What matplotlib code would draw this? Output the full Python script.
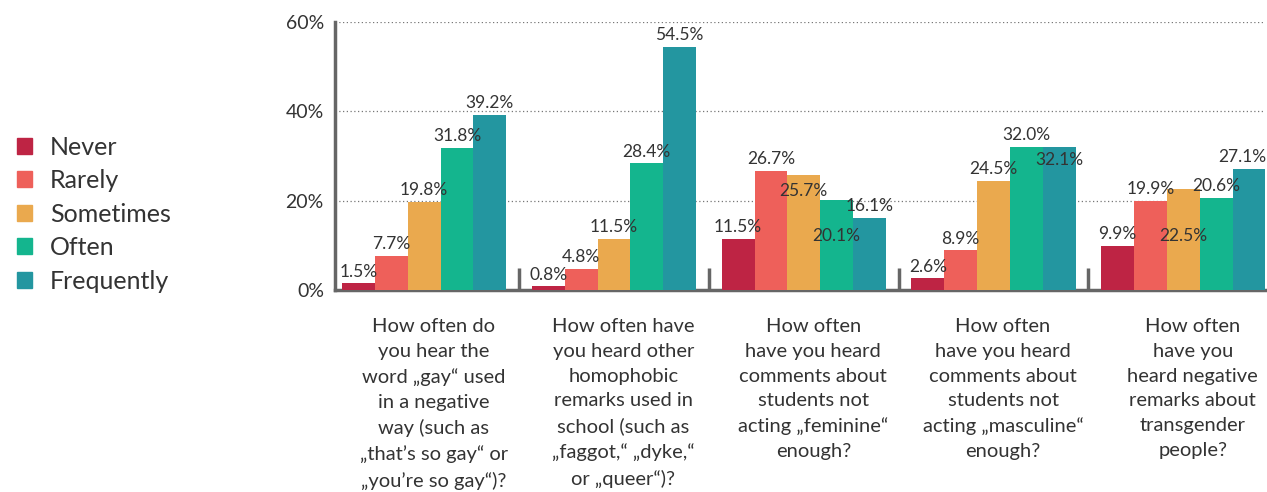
import numpy as np
import matplotlib.pyplot as plt
from matplotlib.patches import Patch

plt.rcParams['font.family'] = ['Lato', 'DejaVu Sans']

questions = [
    "How often do\nyou hear the\nword \u201egay\u201c used\nin a negative\nway (such as\n\u201ethat\u2019s so gay\u201c or\n\u201eyou\u2019re so gay\u201c)?",
    "How often have\nyou heard other\nhomophobic\nremarks used in\nschool (such as\n\u201efaggot,\u201c \u201edyke,\u201c\nor \u201equeer\u201c)?",
    "How often\nhave you heard\ncomments about\nstudents not\nacting \u201efeminine\u201c\nenough?",
    "How often\nhave you heard\ncomments about\nstudents not\nacting \u201emasculine\u201c\nenough?",
    "How often\nhave you\nheard negative\nremarks about\ntransgender\npeople?",
]
answers = ['Never', 'Rarely', 'Sometimes', 'Often', 'Frequently']
never = [1.5, 0.8, 11.5, 2.6, 9.9]
rarely = [7.7, 4.8, 26.7, 8.9, 19.9]
sometimes = [19.8, 11.5, 25.7, 24.5, 22.5]
often = [31.8, 28.4, 20.1, 32.0, 20.6]
frequently = [39.2, 54.5, 16.1, 32.1, 27.1]
series = [never, rarely, sometimes, often, frequently]
colors = ['#BE2444', '#EE605A', '#EAA94E', '#14B58E', '#2396A0']

# labels that sit inside the bar in the original (answer index, question index) -> label centre
inside = {(2, 2): 22.2, (3, 2): 12.1, (4, 3): 29.1, (2, 4): 12.1}

txt = '#333333'
grey = '#666666'

fig = plt.figure(figsize=(12.67, 4.92), dpi=100)
ax = fig.add_axes([0.2644, 0.4106, 0.734, 0.5447])

x = np.arange(len(questions))
w = 0.173
for k, vals in enumerate(series):
    pos = x + (k - 2) * w
    ax.bar(pos, vals, width=w, color=colors[k], zorder=3)
    for i, v in enumerate(vals):
        yc = inside.get((k, i), v + 2.6)
        xc = pos[i] - 0.035 if (k, i) == (4, 4) else pos[i]  # keep last label inside the figure
        ax.text(xc, yc, f'{v:.1f}%', ha='center', va='center',
                fontsize=12.5, color=txt, zorder=4)

# short separators between groups
for s in x[:-1] + 0.5:
    ax.plot([s, s], [0, 5], color=grey, lw=2.5, zorder=2, solid_capstyle='butt')

ax.set_xlim(-0.47, 4.43)
ax.set_ylim(0, 60)
ax.set_yticks([0, 20, 40, 60])
ax.set_yticklabels(['0%', '20%', '40%', '60%'], fontsize=14, color=txt)
ax.yaxis.grid(True, linestyle=(0, (1, 2)), color='#777777', lw=0.9, zorder=0)
ax.tick_params(axis='y', length=0, pad=8)
ax.set_xticks([])
for side in ['top', 'right']:
    ax.spines[side].set_visible(False)
for side in ['left', 'bottom']:
    ax.spines[side].set_color(grey)
    ax.spines[side].set_linewidth(2.5)

for i, q in enumerate(questions):
    ax.text(x[i] + 0.05, -6.3, q, ha='center', va='top', fontsize=14.5,
            color=txt, linespacing=1.55, clip_on=False)

handles = [Patch(color=c) for c in colors]
fig.legend(handles, answers, loc='center left', bbox_to_anchor=(-0.004, 0.565),
           frameon=False, fontsize=18, handlelength=0.6, handleheight=0.6,
           handletextpad=0.7, labelspacing=0.42, labelcolor=txt)

fig.savefig('out.png', dpi=100)
